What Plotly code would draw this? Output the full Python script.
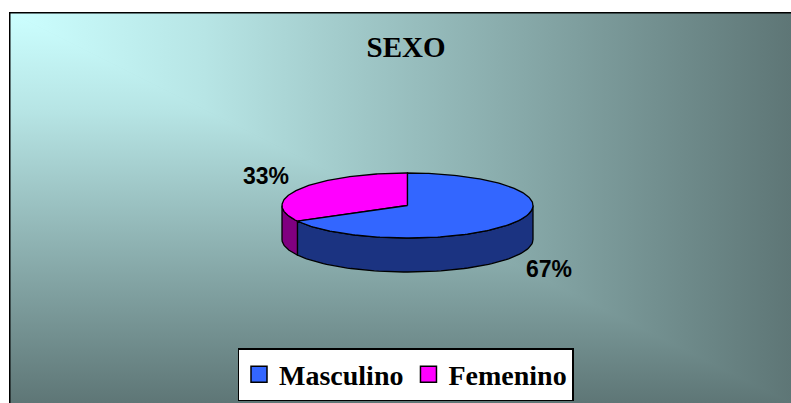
import base64
import numpy as np
import plotly.graph_objects as go

# ---- data ----
title_text = "SEXO"
labels = ["Masculino", "Femenino"]
values = [67, 33]
top_colors = ["#3366FF", "#FF00FF"]
side_colors = ["#1B3381", "#800080"]

# ---- geometry (page-pixel coordinates mapped through the axes) ----
W, H = 791, 403     # page size
L, T = 9, 12        # frame top-left on the page
cx, cy, rx, ry, depth = 407.5, 205.5, 125.5, 32.5, 34

# background gradient "from corner": two triangles, horizontal and vertical ramps
PW, PH = W - L, H - T
stops = '<stop offset="0" stop-color="#CCFFFF"/><stop offset="0.25" stop-color="#B7E5E5"/>' \
        '<stop offset="1" stop-color="#5E7676"/>'
svg = (f'<svg xmlns="http://www.w3.org/2000/svg" width="{PW}" height="{PH}" '
       f'viewBox="0 0 {PW} {PH}" preserveAspectRatio="none">'
       f'<defs><linearGradient id="h" x1="0" y1="0" x2="1" y2="0">{stops}</linearGradient>'
       f'<linearGradient id="v" x1="0" y1="0" x2="0" y2="1">{stops}</linearGradient></defs>'
       f'<polygon points="0,0 {PW},0 {PW},{PH}" fill="url(#h)"/>'
       f'<polygon points="0,0 {PW},{PH} 0,{PH}" fill="url(#v)"/>'
       f'<polygon points="0,0 {PW},{PH}" fill="none" stroke="url(#h)" stroke-width="1"/>'
       f'</svg>')
bg_uri = "data:image/svg+xml;base64," + base64.b64encode(svg.encode()).decode()

fig = go.Figure()

total = float(sum(values))
order = [1, 0]  # Femenino starts at 12 o'clock going left, Masculino follows
angles = {}
start = 90.0
for i in order:
    span = values[i] / total * 360.0
    angles[i] = (start, start + span)
    start += span


def pt(t, dz=0.0):
    r = np.radians(t)
    return cx + rx * np.cos(r), cy - ry * np.sin(r) + dz


# side faces (front half only)
for i in order:
    a0, a1 = angles[i]
    for off in (0, 360):
        s0 = max(a0, 180 + off)
        s1 = min(a1, 360 + off)
        if s1 <= s0:
            continue
        ts = np.linspace(s0, s1, 80)
        xs_top, ys_top = pt(ts)
        xs_bot, ys_bot = pt(ts[::-1], depth)
        xs = np.concatenate([xs_top, xs_bot, xs_top[:1]])
        ys = np.concatenate([ys_top, ys_bot, ys_top[:1]])
        fig.add_trace(go.Scatter(x=xs, y=ys, mode="lines", fill="toself",
                                 fillcolor=side_colors[i],
                                 line=dict(color="black", width=1.3),
                                 showlegend=False, hoverinfo="skip"))

# top faces
for i in order:
    a0, a1 = angles[i]
    ts = np.linspace(a0, a1, 200)
    ex, ey = pt(ts)
    xs = np.concatenate([[cx], ex, [cx]])
    ys = np.concatenate([[cy], ey, [cy]])
    fig.add_trace(go.Scatter(x=xs, y=ys, mode="lines", fill="toself",
                             fillcolor=top_colors[i],
                             line=dict(color="black", width=1.3),
                             showlegend=False, name=labels[i],
                             hovertemplate=f"{labels[i]}: {values[i]}%<extra></extra>"))

# legend entries
for i in range(len(labels)):
    fig.add_trace(go.Scatter(x=[None], y=[None], mode="markers", name=labels[i],
                             marker=dict(symbol="square", size=17, color=top_colors[i],
                                         line=dict(color="black", width=1.5))))

# percent labels placed outside the slices
kx, ky = 1.31, 1.78
for i in order:
    a0, a1 = angles[i]
    mid = (a0 + a1) / 2
    r = np.radians(mid)
    lx = cx + rx * kx * np.cos(r)
    ly = cy - ry * ky * np.sin(r) + (depth if np.sin(r) < 0 else 0)
    fig.add_annotation(x=lx, y=ly, text=f"{values[i] / total * 100:.0f}%", showarrow=False,
                       font=dict(family="Liberation Sans, Arial", size=23, color="black",
                                 weight="bold"),
                       xanchor="center", yanchor="middle")

# frame border lines (top & left)
fig.add_shape(type="line", x0=L, x1=W, y0=T + 0.5, y1=T + 0.5, line=dict(color="black", width=2))
fig.add_shape(type="line", x0=L + 0.5, x1=L + 0.5, y0=T, y1=H, line=dict(color="black", width=2))

fig.add_layout_image(source=bg_uri, xref="paper", yref="paper", x=0, y=1,
                     sizex=1, sizey=1, xanchor="left", yanchor="top",
                     sizing="stretch", layer="below")

fig.update_layout(
    width=W, height=H,
    margin=dict(l=L, r=0, t=T, b=0, pad=0, autoexpand=False),
    paper_bgcolor="white", plot_bgcolor="#617A7A",
    title=dict(text=title_text, x=(406 - L) / (W - L), xref="paper", xanchor="center",
               y=1 - 47 / H, yref="container", yanchor="middle",
               font=dict(family="Liberation Serif, Times New Roman", size=29,
                         color="black", weight="bold")),
    xaxis=dict(range=[L, W], visible=False, fixedrange=True),
    yaxis=dict(range=[H, T], visible=False, fixedrange=True),
    showlegend=True,
    legend=dict(orientation="h", x=(405.5 - L) / (W - L), xanchor="center",
                y=(H - 401) / (H - T), yanchor="bottom",
                bgcolor="white", bordercolor="black", borderwidth=1.5,
                font=dict(family="Liberation Serif, Times New Roman", size=28,
                          color="black", weight="bold"),
                itemsizing="trace"),
)

fig.write_html("out.html", config={"displayModeBar": False},
               post_script="document.body.style.margin='0';"
                           "document.body.style.overflow='hidden';")
